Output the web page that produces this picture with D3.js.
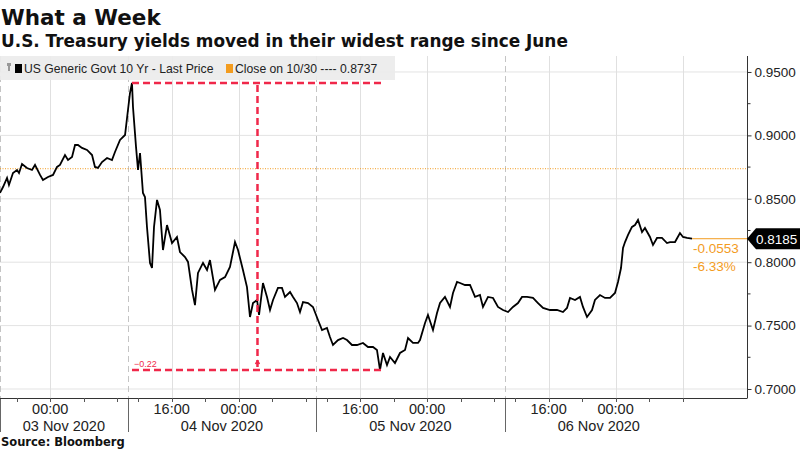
<!DOCTYPE html>
<html>
<head>
<meta charset="utf-8">
<script src="https://cdn.jsdelivr.net/npm/d3@7"></script>
<style>
  body { margin: 0; background: #fff; }
  text { font-family: "Liberation Sans", Arial, sans-serif; }
  .heavy { font-family: "DejaVu Sans", sans-serif; font-weight: bold; }
</style>
</head>
<body>
<svg id="chart" width="800" height="450"></svg>
<script>
// Series: trading hours since chart start (02 Nov 18:00), 10y yield
const tradeHours = [
  0, 0.36, 0.84, 1.07, 1.55, 2.03, 2.27, 2.63, 3.22, 3.82, 4.18, 4.78, 5.13, 5.73, 6.33, 6.81,
  7.16, 7.76, 8.12, 8.60, 8.96, 9.31, 9.79, 10.39, 10.99, 11.34, 11.70, 12.18, 12.78, 13.37, 13.73, 14.33,
  14.93, 15.28, 15.52, 15.76, 15.88, 16.24, 16.48, 16.72, 17.07, 17.31, 17.55, 17.91, 18.15, 18.39, 18.75, 19.10,
  19.46, 19.94, 20.54, 21.13, 21.49, 22.09, 22.45, 22.93, 23.28, 23.64, 24.24, 24.72, 25.07, 25.67, 26.27, 26.87,
  27.46, 28.06, 28.42, 29.01, 29.49, 29.85, 30.21, 30.69, 30.93, 31.40, 31.88, 32.24, 32.60, 33.19, 33.67, 34.03,
  34.63, 34.99, 35.46, 35.82, 36.18, 36.78, 37.37, 37.97, 38.45, 39.04, 39.40, 39.76, 40.36, 40.96, 41.43, 42.03,
  42.63, 43.34, 43.94, 44.54, 45.01, 45.37, 45.73, 46.21, 46.57, 47.16, 47.76, 48.36, 48.72, 49.31, 49.91, 50.15,
  50.75, 51.10, 51.70, 52.18, 52.54, 53.13, 53.73, 54.09, 54.57, 54.93, 55.52, 56.12, 56.72, 57.31, 57.67, 58.27,
  58.87, 59.46, 60.06, 60.66, 61.25, 61.85, 62.33, 62.93, 63.64, 64.24, 64.84, 65.67, 66.51, 67.22, 67.70, 68.06,
  68.66, 69.25, 69.61, 70.09, 70.69, 71.04, 71.64, 72.24, 72.84, 73.43, 73.79, 74.15, 74.39, 74.63, 74.99, 75.46,
  75.82, 76.18, 76.66, 77.01, 77.61, 77.97, 78.45, 79.04, 79.64, 80.00, 80.60, 81.19, 81.55, 82.03, 82.63
];
const yields = [
  0.8546, 0.8593, 0.8664, 0.8609, 0.8703, 0.8727, 0.8703, 0.8774, 0.8743, 0.8727, 0.8767, 0.8688, 0.8648, 0.8672, 0.8688, 0.8751,
  0.8767, 0.8845, 0.8806, 0.8830, 0.8924, 0.8924, 0.8901, 0.8885, 0.8845, 0.8751, 0.8743, 0.8790, 0.8822, 0.8806, 0.8869, 0.8964,
  0.9003, 0.9200, 0.9334, 0.9413, 0.9224, 0.8909, 0.8727, 0.8861, 0.8546, 0.8514, 0.8278, 0.7994, 0.7954, 0.8278, 0.8491, 0.8412,
  0.8096, 0.8293, 0.8151, 0.8199, 0.8080, 0.8041, 0.8002, 0.7781, 0.7662, 0.7915, 0.7994, 0.7938, 0.8017, 0.7781, 0.7860, 0.7883,
  0.7962, 0.8159, 0.8096, 0.7938, 0.7804, 0.7568, 0.7678, 0.7702, 0.7584, 0.7836, 0.7726, 0.7623, 0.7702, 0.7797, 0.7797, 0.7726,
  0.7765, 0.7726, 0.7678, 0.7607, 0.7686, 0.7678, 0.7647, 0.7544, 0.7465, 0.7481, 0.7410, 0.7347, 0.7386, 0.7402, 0.7386, 0.7347,
  0.7347, 0.7363, 0.7331, 0.7331, 0.7308, 0.7150, 0.7284, 0.7189, 0.7252, 0.7205, 0.7284, 0.7308, 0.7402, 0.7363, 0.7363, 0.7386,
  0.7521, 0.7584, 0.7465, 0.7599, 0.7678, 0.7726, 0.7647, 0.7757, 0.7844, 0.7836, 0.7820, 0.7820, 0.7726, 0.7741, 0.7647, 0.7726,
  0.7718, 0.7647, 0.7623, 0.7607, 0.7647, 0.7678, 0.7726, 0.7726, 0.7718, 0.7678, 0.7639, 0.7623, 0.7623, 0.7607, 0.7639, 0.7718,
  0.7702, 0.7726, 0.7647, 0.7568, 0.7623, 0.7702, 0.7741, 0.7718, 0.7718, 0.7757, 0.7844, 0.7954, 0.8112, 0.8159, 0.8215, 0.8278,
  0.8293, 0.8333, 0.8238, 0.8270, 0.8199, 0.8136, 0.8191, 0.8191, 0.8151, 0.8159, 0.8159, 0.8230, 0.8199, 0.8191, 0.8185
];

const yTicks = [0.70, 0.75, 0.80, 0.85, 0.90, 0.95];
const yMinorTicks = [0.725, 0.775, 0.825, 0.875, 0.925];

// Clock hours relative to 03 Nov 00:00
const chartStartClock = -6;
const sessionBreaks = [9.25, 33.25, 57.25, 81.25];
const breakLength = 1.5;
const tickClock = [-4, 0, 4, 8, 12, 16, 20, 24, 28, 32, 36, 40, 44, 48, 52, 56, 60, 64, 68, 72, 76, 80];
const labelledHours = [0, 16];
const extraGridClock = [80];
const sessionDays = ["03 Nov 2020", "04 Nov 2020", "05 Nov 2020", "06 Nov 2020"];

const closeLevel = 0.8737;
const closeLabel = "Close on 10/30";
const lastPrice = 0.8185;
const netChange = "-0.0553";
const pctChange = "-6.33%";
const seriesName = "US Generic Govt 10 Yr - Last Price";

const svg = d3.select("#chart");
const plotLeft = 0, plotRight = 747, plotTop = 56, plotBottom = 398;
const pxPerHour = 8.375;

const orange = "#f39c1f";
const red = "#f0284a";

// Convert clock hours to trading hours (session breaks removed)
function toTrade(c) {
    let t = c - chartStartClock;
    sessionBreaks.forEach(b => {
        if (c > b) t -= Math.min(breakLength, c - b);
    });
    return t;
}

const x = d3.scaleLinear()
    .domain([0, (plotRight - plotLeft) / pxPerHour])
    .range([plotLeft, plotRight]);
const y = d3.scaleLinear()
    .domain([0.6929, 0.9626])
    .range([plotBottom, plotTop]);

// Title block
svg.append("text").attr("class", "heavy")
    .attr("x", 1).attr("y", 25)
    .style("font-size", "21.5px").attr("fill", "#111")
    .text("What a Week");
svg.append("text").attr("class", "heavy")
    .attr("x", 1).attr("y", 47)
    .style("font-size", "16.9px").attr("fill", "#111")
    .text("U.S. Treasury yields moved in their widest range since June");

// Horizontal grid
svg.append("g").selectAll("line").data(yTicks).join("line")
    .attr("x1", plotLeft).attr("x2", plotRight)
    .attr("y1", d => y(d)).attr("y2", d => y(d))
    .attr("stroke", "#e3e3e3").attr("stroke-width", 1);

// Vertical grid at 00:00 / 16:00
const gridClock = tickClock.filter(c => labelledHours.includes(((c % 24) + 24) % 24)).concat(extraGridClock);
svg.append("g").selectAll("line").data(gridClock).join("line")
    .attr("x1", d => Math.round(x(toTrade(d))) + 0.5)
    .attr("x2", d => Math.round(x(toTrade(d))) + 0.5)
    .attr("y1", plotTop).attr("y2", plotBottom)
    .attr("stroke", "#e0e0e0").attr("stroke-width", 1);

// Session separators (dashed in plot, solid under the axis)
const sepTrade = [0].concat(sessionBreaks.slice(0, 3).map(toTrade));
svg.append("g").selectAll("line").data(sepTrade).join("line")
    .attr("x1", d => Math.round(x(d)) + 0.5)
    .attr("x2", d => Math.round(x(d)) + 0.5)
    .attr("y1", plotTop).attr("y2", plotBottom)
    .attr("stroke", "#c4c4c4").attr("stroke-width", 1)
    .attr("stroke-dasharray", "6,4");
svg.append("g").selectAll("line").data(sepTrade).join("line")
    .attr("x1", d => Math.round(x(d)) + 0.5)
    .attr("x2", d => Math.round(x(d)) + 0.5)
    .attr("y1", plotBottom).attr("y2", 432)
    .attr("stroke", "#666").attr("stroke-width", 1);

// Close on 10/30 reference line
svg.append("line")
    .attr("x1", plotLeft).attr("x2", plotRight)
    .attr("y1", y(closeLevel)).attr("y2", y(closeLevel))
    .attr("stroke", orange).attr("stroke-width", 1)
    .attr("stroke-dasharray", "1,1.5");

// Legend band
svg.append("rect")
    .attr("x", 0).attr("y", plotTop).attr("width", 395).attr("height", 24)
    .attr("fill", "#ebebeb").attr("opacity", 0.92);
const legend = svg.append("g").attr("transform", "translate(0,73)");
legend.append("rect").attr("x", 8).attr("y", -8).attr("width", 2).attr("height", 6).attr("fill", "#999");
legend.append("rect").attr("x", 7).attr("y", -10).attr("width", 4).attr("height", 3).attr("fill", "#999");
legend.append("rect").attr("x", 15).attr("y", -9).attr("width", 7).attr("height", 9).attr("fill", "#000");
legend.append("text").attr("x", 24).attr("y", 0)
    .style("font-size", "12.2px").attr("fill", "#222").text(seriesName);
legend.append("rect").attr("x", 226).attr("y", -9).attr("width", 7).attr("height", 9).attr("fill", orange);
legend.append("text").attr("x", 235).attr("y", 0)
    .style("font-size", "12.2px").attr("fill", "#222")
    .text(closeLabel + " ---- " + d3.format(".4f")(closeLevel));

// Yield line
const line = d3.line()
    .x((d, i) => x(tradeHours[i]))
    .y(d => y(d));
svg.append("path")
    .datum(yields)
    .attr("d", line)
    .attr("fill", "none")
    .attr("stroke", "#000")
    .attr("stroke-width", 1.8)
    .attr("stroke-linejoin", "miter");

// High-low range annotation
const hi = d3.maxIndex(yields), lo = d3.minIndex(yields);
const xHi = x(tradeHours[hi]), xLo = x(tradeHours[lo]) + 3;
const xMid = (xHi + xLo) / 2;
const ann = svg.append("g")
    .attr("stroke", red).attr("stroke-width", 2.5).attr("stroke-dasharray", "7,4").attr("fill", "none");
ann.append("line").attr("x1", xHi).attr("x2", xLo).attr("y1", y(yields[hi])).attr("y2", y(yields[hi]));
ann.append("line").attr("x1", xHi).attr("x2", xLo).attr("y1", y(yields[lo])).attr("y2", y(yields[lo]));
ann.append("line").attr("x1", xMid).attr("x2", xMid).attr("y1", y(yields[hi]) + 2).attr("y2", y(yields[lo]) - 2);
svg.append("path")
    .attr("d", `M${xMid - 2},${y(yields[lo]) - 6}L${xMid},${y(yields[lo]) - 9}L${xMid + 2},${y(yields[lo]) - 6}`)
    .attr("stroke", red).attr("stroke-width", 1.5).attr("fill", "none");
svg.append("text")
    .attr("x", xHi + 2).attr("y", y(yields[lo]) - 3)
    .style("font-size", "9px").attr("fill", red)
    .text(d3.format(".2f")(Math.trunc((yields[lo] - yields[hi]) * 100) / 100));

// Last price marker and change
const lastX = x(tradeHours[tradeHours.length - 1]);
const yLast = y(lastPrice);
svg.append("line")
    .attr("x1", lastX).attr("x2", plotRight)
    .attr("y1", yLast).attr("y2", yLast)
    .attr("stroke", orange).attr("stroke-width", 1);
svg.append("text").attr("x", lastX + 1).attr("y", yLast + 14)
    .style("font-size", "13.5px").attr("fill", orange).text(netChange);
svg.append("text").attr("x", lastX + 1).attr("y", yLast + 32)
    .style("font-size", "13.5px").attr("fill", orange).text(pctChange);

// Right axis
const yAxis = d3.axisRight(y)
    .tickValues(yTicks)
    .tickFormat(d3.format(".4f"))
    .tickSize(4)
    .tickPadding(3);
const yg = svg.append("g")
    .attr("transform", `translate(${plotRight + 0.5},0)`)
    .call(yAxis);
yg.select(".domain").attr("d", `M0,${plotTop}V${plotBottom}`).attr("stroke", "#333");
yg.selectAll(".tick line").attr("stroke", "#333");
yg.selectAll(".tick text")
    .style("font-size", "13.5px").style("font-family", "Liberation Sans, Arial, sans-serif")
    .attr("fill", "#222");
yg.selectAll(".minor").data(yMinorTicks).join("line")
    .attr("class", "minor")
    .attr("x1", 0).attr("x2", 3)
    .attr("y1", d => y(d)).attr("y2", d => y(d))
    .attr("stroke", "#333");

// Last price tag
svg.append("path")
    .attr("d", `M${plotRight},${yLast}L${plotRight + 9},${yLast - 10.5}H800V${yLast + 10.5}H${plotRight + 9}Z`)
    .attr("fill", "#000");
svg.append("text").attr("x", plotRight + 9).attr("y", yLast + 5)
    .style("font-size", "13.5px").attr("fill", "#fff")
    .text(d3.format(".4f")(lastPrice));

// Bottom time axis
svg.append("line")
    .attr("x1", plotLeft).attr("x2", plotRight + 0.5)
    .attr("y1", plotBottom + 0.5).attr("y2", plotBottom + 0.5)
    .attr("stroke", "#333");
svg.append("g").selectAll("line").data(tickClock).join("line")
    .attr("x1", d => Math.round(x(toTrade(d))) + 0.5)
    .attr("x2", d => Math.round(x(toTrade(d))) + 0.5)
    .attr("y1", plotBottom).attr("y2", plotBottom + 4)
    .attr("stroke", "#555");
const pad = n => String(n).padStart(2, "0");
svg.append("g").selectAll("text")
    .data(tickClock.filter(c => labelledHours.includes(((c % 24) + 24) % 24)))
    .join("text")
    .attr("x", d => x(toTrade(d)))
    .attr("y", 414)
    .attr("text-anchor", "middle")
    .style("font-size", "14.5px").attr("fill", "#222")
    .text(d => pad(((d % 24) + 24) % 24) + ":00");

const sessionBounds = [0].concat(sessionBreaks.map(toTrade));
svg.append("g").selectAll("text").data(sessionDays).join("text")
    .attr("x", (d, i) => x((sessionBounds[i] + sessionBounds[i + 1]) / 2))
    .attr("y", 431)
    .attr("text-anchor", "middle")
    .style("font-size", "14.5px").attr("fill", "#222")
    .text(d => d);

// Source
svg.append("text").attr("class", "heavy")
    .attr("x", 1).attr("y", 446)
    .style("font-size", "11.5px").attr("fill", "#111")
    .text("Source: Bloomberg");
</script>
</body>
</html>
